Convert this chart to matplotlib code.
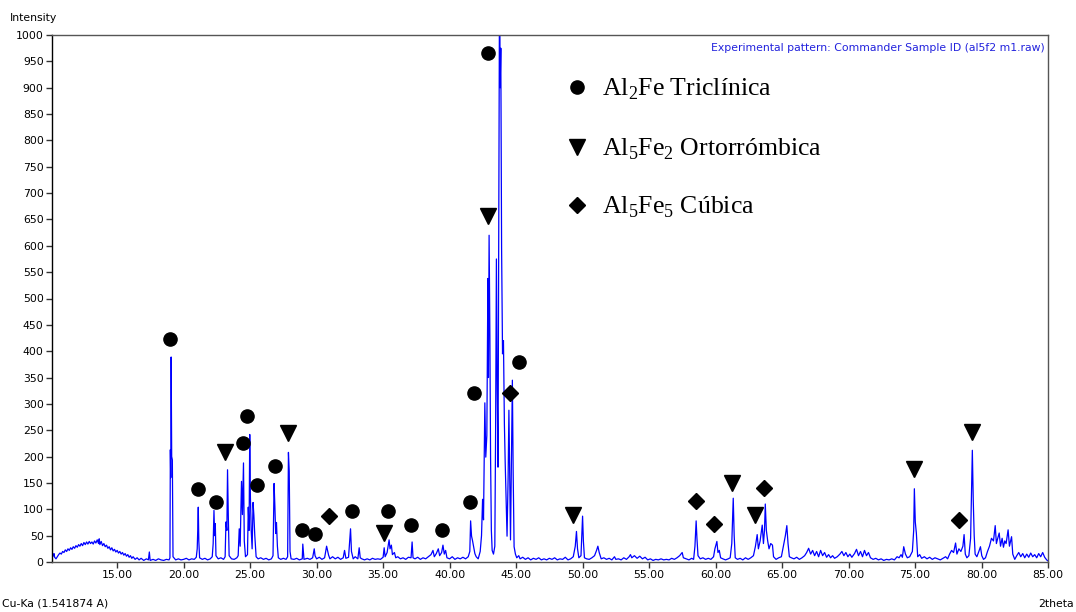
import numpy as np
import matplotlib
matplotlib.use("Agg")
import matplotlib.pyplot as plt
from matplotlib.ticker import FormatStrFormatter

plt.rcParams['mathtext.fontset'] = 'custom'
plt.rcParams['mathtext.rm'] = 'Liberation Serif'

# XRD pattern vertices (2theta, counts)
hump = [(10.10, 8), (10.20, 12), (10.25, 16), (10.30, 9), (10.40, 6), (10.50, 10), (10.60, 14),
        (10.70, 17), (10.80, 15), (10.90, 20), (11.00, 18), (11.10, 23), (11.20, 20), (11.30, 25),
        (11.40, 22), (11.50, 27), (11.60, 24), (11.70, 29), (11.80, 26), (11.90, 31), (12.00, 28),
        (12.10, 33), (12.20, 30), (12.30, 35), (12.40, 31), (12.50, 37), (12.60, 33), (12.70, 38),
        (12.80, 34), (12.90, 39), (13.00, 35), (13.10, 38), (13.20, 34), (13.30, 40), (13.40, 36),
        (13.50, 42), (13.60, 35), (13.65, 44), (13.70, 33), (13.80, 39), (13.90, 31), (14.00, 35),
        (14.10, 29), (14.20, 32), (14.30, 26), (14.40, 29), (14.50, 23), (14.60, 27), (14.70, 21),
        (14.80, 24), (14.90, 19), (15.00, 22), (15.10, 17), (15.20, 20), (15.30, 15), (15.40, 18),
        (15.50, 13), (15.60, 16), (15.70, 11), (15.80, 14), (15.90, 9), (16.00, 12), (16.10, 7),
        (16.20, 10), (16.35, 5), (16.50, 8), (16.65, 4), (16.80, 7), (17.00, 3), (17.20, 6),
        (17.35, 4), (17.42, 19), (17.48, 3), (17.70, 5), (17.90, 3), (18.10, 6), (18.30, 4),
        (18.50, 3), (18.70, 5), (18.90, 4)]

peaks_19_28 = [(18.97, 8), (19.00, 213), (19.03, 160), (19.06, 389), (19.10, 200), (19.15, 194),
               (19.20, 10), (19.40, 4), (19.60, 6), (19.80, 4), (20.00, 5), (20.20, 7), (20.40, 4),
               (20.60, 6), (20.80, 5), (20.95, 9), (21.02, 25), (21.06, 60), (21.10, 104),
               (21.14, 40), (21.20, 8), (21.40, 5), (21.60, 7), (21.80, 4), (22.00, 6), (22.15, 10),
               (22.22, 35), (22.28, 98), (22.33, 50), (22.38, 73), (22.43, 12), (22.60, 6),
               (22.80, 8), (23.00, 5), (23.12, 10), (23.18, 76), (23.25, 60), (23.30, 175),
               (23.36, 85), (23.42, 12), (23.60, 6), (23.80, 5), (24.00, 8), (24.10, 12),
               (24.18, 63), (24.25, 30), (24.35, 153), (24.42, 90), (24.50, 188), (24.56, 40),
               (24.65, 10), (24.80, 14), (24.86, 104), (24.92, 60), (24.97, 242), (25.02, 123),
               (25.08, 60), (25.15, 25), (25.22, 113), (25.28, 89), (25.35, 50), (25.45, 10),
               (25.60, 6), (25.80, 8), (26.00, 5), (26.20, 7), (26.40, 4), (26.60, 6), (26.72, 12),
               (26.80, 149), (26.86, 106), (26.92, 54), (26.98, 75), (27.05, 30), (27.12, 8),
               (27.30, 5), (27.50, 7), (27.70, 5), (27.82, 10), (27.88, 208), (27.94, 172),
               (28.00, 20), (28.08, 6)]

peaks_28_42 = [(28.30, 5), (28.50, 7), (28.70, 4), (28.92, 6), (28.96, 34), (29.00, 20),
               (29.05, 5), (29.30, 7), (29.50, 5), (29.70, 8), (29.82, 25), (29.88, 12),
               (30.00, 6), (30.20, 9), (30.40, 5), (30.60, 8), (30.75, 30), (30.82, 22),
               (30.90, 13), (31.00, 6), (31.20, 10), (31.40, 6), (31.60, 9), (31.80, 5),
               (32.00, 8), (32.10, 22), (32.20, 7), (32.40, 9), (32.55, 63), (32.62, 20),
               (32.75, 6), (32.90, 10), (33.10, 6), (33.20, 27), (33.28, 8), (33.40, 6),
               (33.60, 4), (33.80, 6), (34.00, 4), (34.20, 7), (34.40, 5), (34.60, 6), (34.80, 5),
               (35.00, 9), (35.08, 27), (35.15, 10), (35.30, 18), (35.45, 42), (35.52, 25),
               (35.62, 32), (35.70, 14), (35.85, 18), (35.95, 8), (36.10, 10), (36.30, 6),
               (36.50, 8), (36.70, 5), (36.90, 9), (37.10, 8), (37.18, 38), (37.25, 8),
               (37.40, 6), (37.60, 9), (37.80, 5), (38.00, 8), (38.20, 6), (38.40, 10),
               (38.60, 14), (38.75, 22), (38.85, 10), (39.00, 16), (39.15, 25), (39.25, 12),
               (39.40, 18), (39.50, 32), (39.60, 15), (39.70, 22), (39.80, 8), (40.00, 6),
               (40.20, 10), (40.40, 5), (40.60, 8), (40.80, 6), (41.00, 9), (41.20, 6),
               (41.40, 10), (41.52, 20), (41.58, 78), (41.65, 49), (41.72, 41), (41.80, 30),
               (41.90, 16), (42.00, 10), (42.15, 6)]

main_cluster = [(42.30, 20), (42.40, 50), (42.48, 119), (42.55, 80), (42.65, 302), (42.72, 199),
                (42.80, 240), (42.88, 538), (42.92, 350), (42.97, 620), (43.03, 428), (43.08, 200),
                (43.14, 60), (43.20, 22), (43.30, 15), (43.40, 30), (43.46, 250), (43.52, 575),
                (43.58, 328), (43.64, 180), (43.76, 1150), (43.80, 900), (43.85, 975),
                (43.91, 595), (43.98, 395), (44.05, 420), (44.12, 262), (44.18, 189), (44.25, 120),
                (44.32, 49), (44.40, 160), (44.46, 288), (44.52, 162), (44.58, 42), (44.64, 169),
                (44.72, 345), (44.78, 169), (44.85, 29), (44.95, 15), (45.05, 8)]

peaks_45_62 = [(45.20, 12), (45.30, 6), (45.50, 9), (45.70, 5), (45.90, 8), (46.10, 4), (46.30, 7),
               (46.50, 5), (46.70, 8), (46.90, 4), (47.10, 6), (47.30, 4), (47.50, 7), (47.70, 5),
               (47.90, 8), (48.10, 4), (48.30, 6), (48.50, 5), (48.70, 9), (48.90, 4), (49.10, 6),
               (49.30, 10), (49.45, 30), (49.54, 58), (49.62, 25), (49.72, 8), (49.88, 12),
               (49.95, 55), (50.00, 87), (50.06, 40), (50.14, 8), (50.30, 6), (50.50, 5),
               (50.70, 8), (50.90, 12), (51.05, 22), (51.15, 30), (51.25, 18), (51.40, 6),
               (51.60, 8), (51.80, 5), (52.00, 7), (52.20, 4), (52.40, 10), (52.50, 5), (52.70, 6),
               (52.90, 4), (53.10, 8), (53.30, 5), (53.50, 10), (53.60, 14), (53.70, 8),
               (53.90, 12), (54.10, 7), (54.30, 11), (54.50, 6), (54.70, 9), (54.90, 4),
               (55.10, 6), (55.30, 3), (55.50, 5), (55.70, 4), (55.90, 6), (56.10, 4), (56.30, 5),
               (56.50, 4), (56.70, 7), (56.90, 5), (57.10, 8), (57.30, 12), (57.49, 18),
               (57.58, 8), (57.80, 6), (58.00, 4), (58.20, 7), (58.35, 5), (58.45, 30),
               (58.54, 78), (58.60, 45), (58.68, 12), (58.85, 6), (59.05, 8), (59.25, 5),
               (59.45, 7), (59.65, 5), (59.85, 10), (59.95, 25), (60.10, 39), (60.18, 18),
               (60.28, 22), (60.38, 8), (60.55, 6), (60.75, 4), (60.95, 6), (61.10, 8),
               (61.22, 35), (61.33, 121), (61.40, 50), (61.48, 8), (61.65, 5), (61.85, 7),
               (62.05, 4)]

peaks_62_85 = [(62.25, 8), (62.45, 5), (62.65, 8), (62.85, 12), (63.00, 30), (63.13, 52),
               (63.22, 25), (63.35, 40), (63.51, 70), (63.60, 35), (63.68, 60), (63.74, 110),
               (63.82, 60), (63.92, 40), (64.02, 25), (64.15, 35), (64.28, 32), (64.36, 10),
               (64.55, 5), (64.75, 8), (64.95, 10), (65.10, 30), (65.25, 50), (65.36, 69),
               (65.45, 35), (65.55, 10), (65.70, 8), (65.90, 6), (66.10, 9), (66.30, 5),
               (66.50, 8), (66.70, 12), (66.85, 18), (67.00, 26), (67.15, 15), (67.30, 22),
               (67.45, 12), (67.60, 20), (67.75, 10), (67.90, 22), (68.05, 12), (68.20, 18),
               (68.35, 9), (68.50, 14), (68.65, 8), (68.80, 12), (68.95, 7), (69.15, 10),
               (69.35, 15), (69.50, 20), (69.65, 12), (69.80, 18), (69.95, 10), (70.10, 15),
               (70.25, 9), (70.45, 16), (70.60, 24), (70.75, 12), (70.90, 20), (71.05, 10),
               (71.20, 22), (71.35, 12), (71.50, 18), (71.65, 8), (71.85, 5), (72.05, 7),
               (72.25, 4), (72.45, 6), (72.65, 3), (72.85, 5), (73.05, 4), (73.25, 6), (73.45, 4),
               (73.65, 10), (73.80, 8), (73.95, 14), (74.05, 9), (74.15, 29), (74.28, 15),
               (74.42, 8), (74.60, 10), (74.80, 20), (74.90, 60), (74.95, 139), (75.02, 76),
               (75.10, 55), (75.20, 10), (75.35, 14), (75.50, 7), (75.70, 10), (75.90, 6),
               (76.10, 9), (76.30, 5), (76.50, 8), (76.70, 6), (76.90, 4), (77.10, 7), (77.30, 10),
               (77.45, 6), (77.60, 15), (77.75, 22), (77.90, 18), (78.05, 36), (78.15, 15),
               (78.30, 25), (78.45, 20), (78.60, 30), (78.69, 52), (78.78, 15), (78.90, 8),
               (79.05, 12), (79.18, 45), (79.31, 212), (79.38, 116), (79.45, 50), (79.52, 15),
               (79.65, 10), (79.80, 20), (79.92, 29), (80.02, 12), (80.15, 5), (80.30, 8),
               (80.45, 20), (80.60, 30), (80.75, 45), (80.90, 40), (81.03, 69), (81.12, 35),
               (81.22, 45), (81.33, 55), (81.43, 30), (81.55, 45), (81.65, 28), (81.75, 40),
               (81.85, 35), (82.00, 61), (82.10, 30), (82.26, 48), (82.35, 15), (82.50, 5),
               (82.65, 12), (82.80, 18), (82.95, 10), (83.10, 16), (83.25, 8), (83.40, 15),
               (83.55, 9), (83.70, 17), (83.85, 10), (84.00, 14), (84.15, 8), (84.30, 16),
               (84.45, 10), (84.60, 18), (84.75, 9), (84.90, 4), (85.00, 2)]

# phase identification markers (2theta, counts)
al2fe_x = [19.0, 21.07, 22.42, 24.45, 24.8, 25.5, 26.85, 28.9, 29.9, 32.64, 35.38, 37.1, 39.45,
           41.5, 41.83, 42.88, 45.25]
al2fe_y = [423, 139, 113, 225, 277, 147, 182, 61, 54, 97, 97, 70, 61, 113, 320, 965, 380]
al5fe2_x = [23.12, 27.88, 35.05, 42.88, 49.3, 61.25, 62.95, 74.9, 79.3]
al5fe2_y = [209, 244, 55, 656, 89, 150, 90, 177, 246]
al5fe5_x = [30.94, 44.55, 58.55, 59.88, 63.65, 78.3]
al5fe5_y = [87, 320, 115, 72, 141, 80]

phase_labels = ["Al$_2$Fe Triclínica", "Al$_5$Fe$_2$ Ortorrómbica", "Al$_5$Fe$_5$ Cúbica"]
phase_markers = ["o", "v", "D"]

pattern = np.array(hump + peaks_19_28 + peaks_28_42 + main_cluster + peaks_45_62 + peaks_62_85)
two_theta = pattern[:, 0]
counts = pattern[:, 1]

fig = plt.figure(figsize=(10.76, 6.12), dpi=100)
ax = fig.add_axes([52 / 1076, 50 / 612, 996 / 1076, 527 / 612])

ax.plot(two_theta, counts, color="#0000ff", lw=0.9)

ms = {"o": 9.5, "v": 11, "D": 8.5}
ax.plot(al2fe_x, al2fe_y, "o", color="black", ms=ms["o"], clip_on=False)
ax.plot(al5fe2_x, al5fe2_y, "v", color="black", ms=ms["v"], clip_on=False)
ax.plot(al5fe5_x, al5fe5_y, "D", color="black", ms=ms["D"], clip_on=False)

# legend drawn by hand, like in the original
leg_y = [0.901, 0.788, 0.677]
for lab, mk, yy in zip(phase_labels, phase_markers, leg_y):
    ax.plot([0.527], [yy], mk, color="black", ms=ms[mk], transform=ax.transAxes)
    ax.text(0.552, yy - 0.004, lab, transform=ax.transAxes, va="center", ha="left",
            fontsize=18.5, family="Liberation Serif")

ax.set_xlim(10.1, 85)
ax.set_ylim(0, 1000)
ax.set_xticks(np.arange(15, 86, 5))
ax.set_yticks(np.arange(0, 1001, 50))
ax.xaxis.set_major_formatter(FormatStrFormatter("%.2f"))
ax.tick_params(direction="out", length=4, width=1, labelsize=7.8, pad=2, colors="#333333",
               labelcolor="black")

for side in ["top", "right", "bottom"]:
    ax.spines[side].set_color("#555555")
ax.spines["left"].set_color("black")
for s in ax.spines.values():
    s.set_linewidth(1)

ax.text(0.997, 0.985, "Experimental pattern: Commander Sample ID (al5f2 m1.raw)",
        transform=ax.transAxes, ha="right", va="top", fontsize=7.8, color="#2222dd")

fig.text(10 / 1076, 1 - 18 / 612, "Intensity", fontsize=7.8, va="center", ha="left")
fig.text(2 / 1076, 1 - 604 / 612, "Cu-Ka (1.541874 A)", fontsize=7.8, va="center", ha="left")
fig.text(1074 / 1076, 1 - 604 / 612, "2theta", fontsize=7.8, va="center", ha="right")

fig.savefig("out.png", dpi=100)
